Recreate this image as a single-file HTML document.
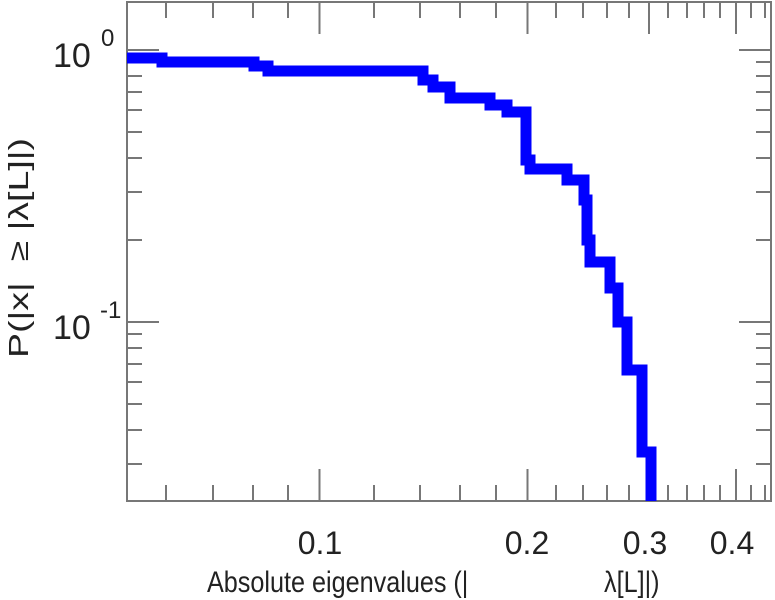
<!DOCTYPE html>
<html><head><meta charset="utf-8"><style>
html,body{margin:0;padding:0;background:#fff;}
svg{display:block;font-family:"Liberation Sans",sans-serif;}
text{white-space:pre;}
</style></head><body>
<svg width="775" height="600" viewBox="0 0 775 600" xmlns="http://www.w3.org/2000/svg">
<g stroke="#777" stroke-width="2" fill="none">
<rect x="127" y="2" width="644" height="499"/>
<path d="M127 50h32M771 50h-32M127 322h32M771 322h-32"/>
<path d="M127 76h15M127 92h15M127 110h15M127 132h15M127 158h15M127 192h15M127 240h15M127 334h15M127 348h15M127 364h15M127 382h15M127 404h15M127 430h15M127 464h15
M771 62h-15M771 76h-15M771 92h-15M771 110h-15M771 132h-15M771 158h-15M771 192h-15M771 240h-15M771 334h-15M771 348h-15M771 364h-15M771 382h-15M771 404h-15M771 430h-15M771 464h-15"/>
<path d="M319.5 501v-32M527.5 501v-32M649 501v-32M736 501v-32M319.5 2v32M527.5 2v32M649 2v32M736 2v32"/>
<path d="M166 501v-16M213 501v-16M253 501v-16M288 501v-16M374 501v-16M420 501v-16M460 501v-16M496 501v-16M556 501v-16M583 501v-16M607 501v-16M629 501v-16M668 501v-16M687 501v-16M704 501v-16M720 501v-16M751 501v-16M765 501v-16
M166 2v16M213 2v16M253 2v16M288 2v16M374 2v16M420 2v16M460 2v16M496 2v16M556 2v16M583 2v16M607 2v16M629 2v16M668 2v16M687 2v16M704 2v16M720 2v16M751 2v16M765 2v16"/>
</g>
<path fill="none" stroke="#0000ff" stroke-width="11" stroke-linejoin="miter"
d="M127 58H162V62H254V66H268V71H423V80H433V87H450V98H490V105H507V112H526V160H530V169H567V180H584V200H587V240H590V262H610V288H618V322H627V370H642V452H651V501"/>
<g fill="#222">
<text x="53" y="67" font-size="34">10</text><text x="101" y="46" font-size="24">0</text>
<text x="53" y="339" font-size="34">10</text><text x="100" y="318" font-size="24">-1</text>
<g font-size="32" text-anchor="middle">
<text x="320" y="554">0.1</text><text x="527" y="554">0.2</text><text x="645" y="554">0.3</text><text x="732" y="554">0.4</text>
</g>
<text transform="translate(207,592) scale(0.84,1)" font-size="30">Absolute eigenvalues (|</text>
<text transform="translate(604,592) scale(0.84,1)" font-size="30">λ[L]|)</text>
<text transform="translate(28,248) rotate(-90)" font-size="28" text-anchor="middle" textLength="220" lengthAdjust="spacingAndGlyphs">P(|x|  ≥ |λ[L]|)</text>
</g>
</svg>
</body></html>
